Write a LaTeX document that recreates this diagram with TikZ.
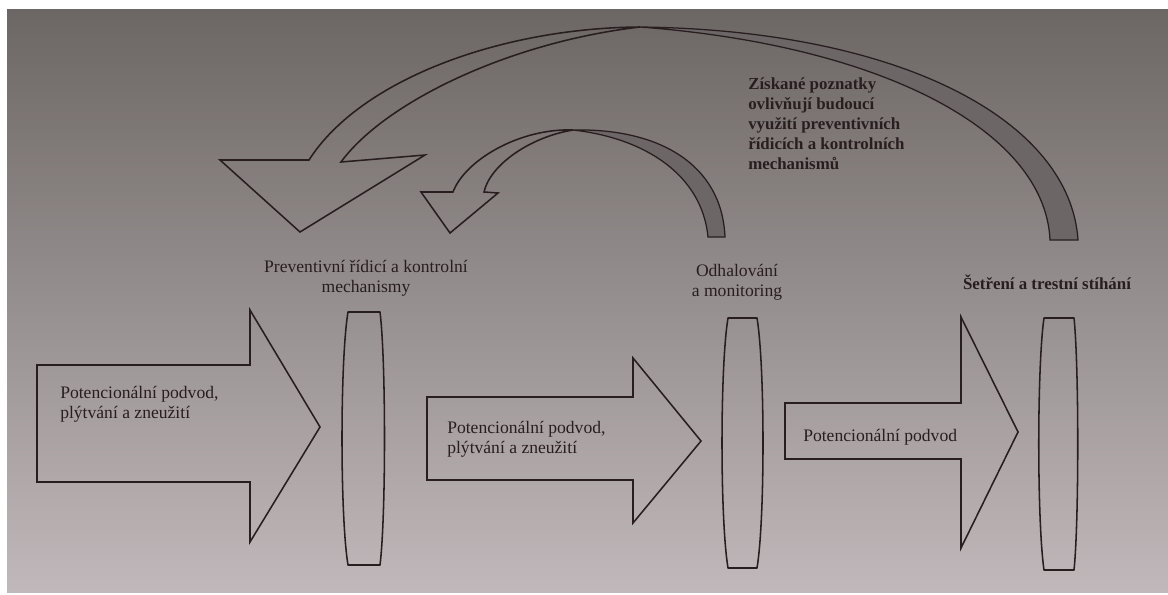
\documentclass[tikz,border=0pt]{standalone}
\usepackage{fontspec}
\setmainfont{Liberation Serif}
\usepackage{tikz}
\usetikzlibrary{positioning}
\definecolor{ink}{RGB}{40,30,32}
\definecolor{band}{RGB}{108,102,102}
\definecolor{pagetop}{RGB}{108,102,100}
\definecolor{pagemid}{RGB}{176,167,168}
\definecolor{pagebot}{RGB}{192,184,186}

\begin{document}
\begin{tikzpicture}[x=0.025cm, y=-0.025cm,
    outline/.style={draw=ink, line width=1.1pt, line join=miter},
    ribbon/.style={draw=ink, line width=0.9pt, fill=band},
    lens/.style={draw=ink, line width=1.1pt, line join=round},
    lbl/.style={text=ink, font=\fontsize{12.5}{14.5}\selectfont, inner sep=0pt},
    note/.style={text=ink, font=\fontsize{12}{14.3}\selectfont\bfseries, inner sep=0pt, align=left}]
    % page
    \fill[white] (0,0) rectangle (1168,594);
    \useasboundingbox (0,0) rectangle (1168,594);
    \shade[top color=pagetop, middle color=pagemid, bottom color=pagebot] (7,9) rectangle (1168,592);

    % block arrows
    \draw[outline] (37,365) -- (250,365) -- (250,310) -- (320,427) -- (250,542) -- (250,482) -- (37,482) -- cycle;
    \draw[outline] (427,397) -- (633,397) -- (633,358) -- (701,441) -- (633,523) -- (633,480) -- (427,480) -- cycle;
    \draw[outline] (785,403) -- (961,403) -- (961,317) -- (1018,432) -- (961,548) -- (961,459) -- (785,459) -- cycle;

    % lenses
    \draw[lens] (348,312) -- (380,312) .. controls (386,360) and (386,517) .. (380,565) -- (348,565) .. controls (340,517) and (340,360) .. cycle;
    \draw[lens] (728,318) -- (757,318) .. controls (765,366) and (765,520) .. (757,568) -- (728,568) .. controls (720,520) and (720,366) .. cycle;
    \draw[lens] (1044,318) -- (1074,318) .. controls (1079,366) and (1079,522) .. (1074,570) -- (1044,570) .. controls (1037,522) and (1037,366) .. cycle;

    % feedback ribbons
    \draw[ribbon] (1078,240) .. controls (1070,120) and (900,30) .. (640,27) .. controls (880,45) and (1045,130) .. (1050,240) -- cycle;
    \draw[outline] (640,27) .. controls (500,28) and (360,80) .. (309,160) -- (220,160) -- (300,232) -- (425,155) -- (341,162) .. controls (385,102) and (510,42) .. cycle;
    \draw[ribbon] (725,237) .. controls (722,165) and (660,128) .. (573,130) .. controls (645,138) and (702,175) .. (708,237) -- cycle;
    \draw[outline] (573,130) .. controls (520,128) and (465,160) .. (453,192) -- (421,192) -- (450,233) -- (498,193) -- (484,192) .. controls (490,165) and (530,137) .. cycle;

    % texts
    \node[lbl, anchor=west, align=left] (flow1) at (60,404) {Potencionální podvod,\\plýtvání a zneužití};
    \node[lbl, anchor=west, align=left] (flow2) at (447,439) {Potencionální podvod,\\plýtvání a zneužití};
    \node[lbl, anchor=west] (flow3) at (803,437) {Potencionální podvod};
    \node[lbl, align=center] (prevent) at (366,278) {Preventivní řídicí a kontrolní\\mechanismy};
    \node[lbl, align=center] (detect) at (737,282) {Odhalování\\a monitoring};
    \node[note] (invest) at (1047,282) {Šetření a trestní stíhání};
    \node[note, anchor=west] (lesson) at (748,124) {Získané poznatky\\ovlivňují budoucí\\využití preventivních\\řídicích a kontrolních\\mechanismů};
\end{tikzpicture}
\end{document}
